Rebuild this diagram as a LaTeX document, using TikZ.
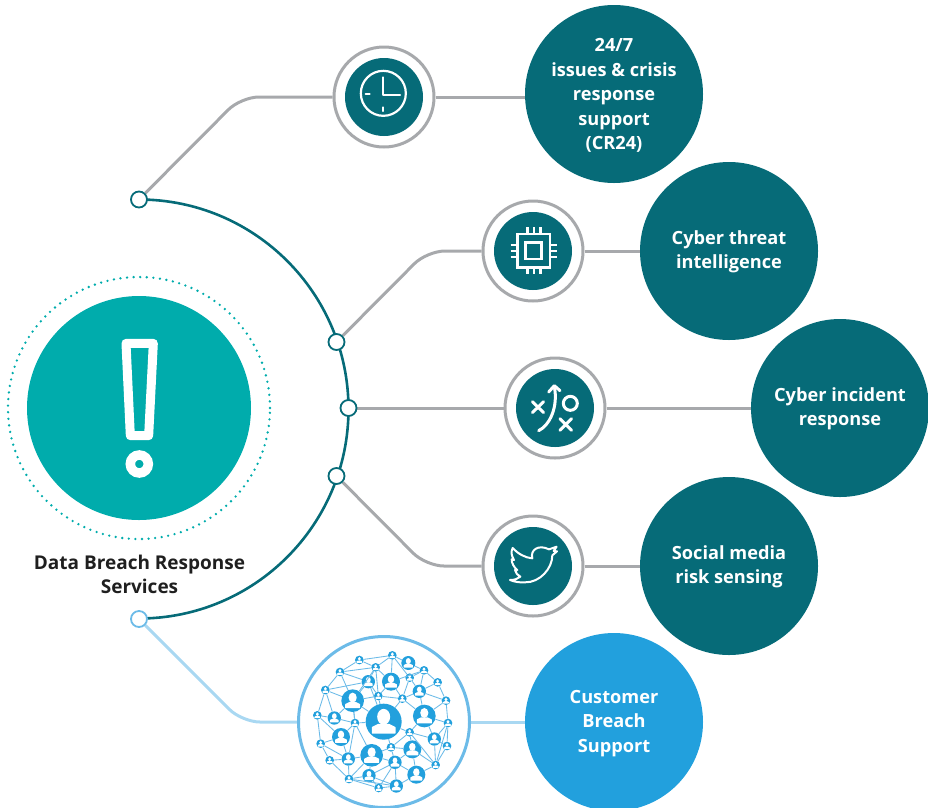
\documentclass[tikz,border=0pt]{standalone}
\usepackage{fontspec}
\setmainfont{Open Sans}
\usetikzlibrary{backgrounds}
\definecolor{tealD}{HTML}{066B78}
\definecolor{tealL}{HTML}{00ACAC}
\definecolor{blueC}{HTML}{22A0DD}
\definecolor{blueL}{HTML}{A9D8F2}
\definecolor{blueM}{HTML}{6CBBE8}
\definecolor{greyL}{HTML}{A7A9AC}
\tikzset{
  lbl/.style={circle,fill=tealD,minimum size=178pt,inner sep=0pt},
  lbltxt/.style={inner sep=0pt,text=white,align=center,font=\bfseries\fontsize{18.2}{24.5}\selectfont},
  ring/.style={circle,draw=greyL,line width=3pt,fill=white,minimum size=100pt,inner sep=0pt},
  disc/.style={circle,fill=tealD,minimum size=78pt,inner sep=0pt},
  dotn/.style={circle,draw=#1,line width=1.8pt,fill=white,minimum size=16pt,inner sep=0pt},
  conn/.style={greyL,line width=3pt,rounded corners=18pt},
  ico/.style={white,line width=2.2pt,line cap=round,line join=round},
  pers/.style={circle,fill=blueC,inner sep=0pt},
  netl/.style={blueM,line width=0.85pt}
}
\newcommand{\pn}[4]{%
  \node[pers,minimum size={#4*2/3*1pt}] (#1) at (#2,#3) {};
  \fill[white] (#2,{#3-0.27*#4}) ellipse [x radius={0.36*#4},y radius={0.44*#4}];
  \fill[white,rounded corners=0.4pt] ({#2-0.66*#4},{#3+0.66*#4}) -- ({#2-0.66*#4},{#3+0.3*#4}) -- ({#2-0.3*#4},{#3+0.12*#4}) -- ({#2+0.3*#4},{#3+0.12*#4}) -- ({#2+0.66*#4},{#3+0.3*#4}) -- ({#2+0.66*#4},{#3+0.66*#4}) -- cycle;
}
\begin{document}
\begin{tikzpicture}[x=1pt,y=-1pt]
\useasboundingbox (0,0) rectangle (928,807);
\clip (0,0) rectangle (928,807);

% left hub
\node[circle,fill=tealL,minimum size=224pt,inner sep=0pt] (hub) at (139,408) {};
\node[circle,draw=tealL,line width=2.6pt,dash pattern=on 0pt off 6.6pt,line cap=round,minimum size=262pt,inner sep=0pt] (hubring) at (139,408) {};
\begin{scope}[shift={(70,320)},x=0.3333pt,y=-0.3333pt]
  \draw[white,line width=9pt,line join=round] (168,70) -- (250,70) -- (236,347) -- (181,347) -- cycle;
  \draw[white,line width=9.5pt] (208,432) circle [radius=9pt];
\end{scope}
\node[font=\bfseries\fontsize{19}{24}\selectfont,text=black!88,align=center,inner sep=0pt] (title) at (139.5,574) {Data Breach Response\\Services};

% branch dots
\node[dotn=tealD] (d1) at (139,199.5) {};
\node[dotn=tealD] (d2) at (336.5,342) {};
\node[dotn=tealD] (d3) at (348.5,408) {};
\node[dotn=tealD] (d4) at (336.5,476) {};
\node[dotn=blueM] (d5) at (139,619) {};

% corners
\coordinate (k1) at (241,97);
\coordinate (k2) at (427,251);
\coordinate (k4) at (426,566);
\coordinate (k5) at (242,722);

% icon rings
\node[ring] (r1) at (384,97) {};
\node[ring] (r2) at (533,251) {};
\node[ring] (r3) at (555,408) {};
\node[ring] (r4) at (533,566) {};
\node[disc] at (384,97) {};
\node[disc] at (533,251) {};
\node[disc] at (555,408) {};
\node[disc] at (533,566) {};
\node[circle,draw=blueM,line width=3pt,fill=white,minimum size=171pt,inner sep=0pt] (r5) at (384,722) {};

% labels
\node[lbl] (l1) at (614,94) {};
\node[lbl] (l2) at (729,251) {};
\node[lbl] (l3) at (840,408) {};
\node[lbl] (l4) at (729,566) {};
\node[lbl,fill=blueC] (l5) at (614,722) {};
\node[lbltxt] (t1) at (614,95.5) {24/7\\issues \& crisis\\response\\support\\(CR24)};
\node[lbltxt] (t2) at (729,252) {Cyber threat\\intelligence};
\node[lbltxt] (t3) at (840,409) {Cyber incident\\response};
\node[lbltxt] (t4) at (729,567) {Social media\\risk sensing};
\node[lbltxt] (t5) at (614,723.5) {Customer\\Breach\\Support};

% connectors
\begin{scope}[on background layer]
  \draw[tealD,line width=2.6pt] (139,199.5) arc [start angle=90,end angle=-90,radius=209.5pt];
  \draw[conn] (d1) -- (k1) -- (r1);
  \draw[conn] (r1.east) -- (l1.west |- r1.east);
  \draw[conn] (d2) -- (k2) -- (r2);
  \draw[conn] (r2) -- (l2);
  \draw[conn] (d3) -- (r3);
  \draw[conn] (r3) -- (l3);
  \draw[conn] (d4) -- (k4) -- (r4);
  \draw[conn] (r4) -- (l4);
  \draw[conn,blueL] (d5) -- (k5) -- (r5);
  \draw[conn,blueL] (r5) -- (l5);
\end{scope}

% clock
\begin{scope}[shift={(320,30)},x=0.3333pt,y=-0.3333pt]
  \draw[ico] (190,190) circle [radius=22.5pt];
  \draw[ico] (190,142) -- (190,195) -- (240,195);
  \draw[ico] (137,191) -- (149,191);
  \draw[ico] (190,232) -- (190,243);
\end{scope}

% chip
\begin{scope}[shift={(470,190)},x=0.3333pt,y=-0.3333pt]
  \draw[ico,line width=2.6pt,line cap=butt,line join=miter] (142,132) rectangle (240,232);
  \draw[ico,line width=2.6pt,line cap=butt,line join=miter] (167,158) rectangle (214,207);
  \foreach \p in {172,192,212}{
    \draw[ico,line width=2.6pt,line cap=butt] (\p,112) -- (\p,132);
    \draw[ico,line width=2.6pt,line cap=butt] (\p,232) -- (\p,252);
  }
  \foreach \p in {165,183,201}{
    \draw[ico,line width=2.6pt,line cap=butt] (122,\p) -- (142,\p);
    \draw[ico,line width=2.6pt,line cap=butt] (240,\p) -- (262,\p);
  }
\end{scope}

% play
\begin{scope}[shift={(495,350)},x=0.3333pt,y=-0.3333pt]
  \draw[ico,line width=3pt] (112,155) -- (146,188) (146,155) -- (112,188);
  \draw[ico,line width=3pt] (226,160) circle [radius=7pt];
  \draw[ico,line width=3pt] (195,206) -- (230,241) (230,206) -- (195,241);
  \draw[ico,line width=3pt] (131,242) .. controls (165,225) and (190,170) .. (178,110);
  \draw[ico,line width=3pt] (161,126) -- (178,107) -- (195,122);
\end{scope}

% bird
\begin{scope}[shift={(475,510)},x=0.3333pt,y=-0.3333pt]
  \draw[ico,line width=2pt] (172,145) .. controls (165,120) and (190,102) .. (222,118)
     -- (245,110) -- (236,123) -- (246,124) -- (232,136)
     .. controls (232,175) and (195,218) .. (150,217)
     .. controls (130,218) and (118,215) .. (105,210)
     .. controls (118,210) and (128,207) .. (136,200)
     .. controls (128,195) and (122,190) .. (120,180)
     -- (127,180) .. controls (117,172) and (110,160) .. (110,148)
     -- (117,150) .. controls (108,135) and (108,125) .. (113,114)
     .. controls (130,132) and (150,143) .. (172,145) -- cycle;
\end{scope}

% network
\begin{scope}[shift={(290,625)},x=0.3333pt,y=-0.3333pt]
  \pn{C}{281}{290}{54} \pn{A}{188}{227}{34} \pn{B}{403}{273}{34} \pn{D}{245}{391}{34}
  \pn{E}{153}{336}{27} \pn{F}{367}{373}{27} \pn{G}{379}{449}{27} \pn{H}{303}{170}{27}
  \pn{I}{355}{114}{21} \pn{J}{235}{170}{20} \pn{K}{388}{199}{20} \pn{L}{433}{342}{20}
  \pn{M}{133}{279}{20} \pn{N}{175}{402}{20} \pn{O}{315}{412}{20} \pn{P}{237}{452}{20}
  \pn{Q}{319}{483}{20}
  \pn{a}{307}{91}{13} \pn{b}{208}{105}{13} \pn{c}{257}{127}{13} \pn{d}{150}{141}{13}
  \pn{e}{106}{195}{13} \pn{f}{265}{213}{13} \pn{g}{337}{221}{13} \pn{h}{359}{158}{13}
  \pn{i}{402}{136}{13} \pn{j}{443}{172}{13} \pn{k}{468}{227}{13} \pn{l}{474}{294}{13}
  \pn{m}{471}{363}{13} \pn{n}{437}{420}{13} \pn{o}{359}{322}{13} \pn{p}{303}{367}{13}
  \pn{q}{195}{294}{13} \pn{r}{82}{271}{13} \pn{s}{92}{356}{13} \pn{t}{119}{406}{13}
  \pn{u}{177}{462}{13} \pn{v}{266}{489}{13}
  \foreach \u/\w in {b/a,a/I,a/c,a/h,b/c,b/d,d/c,d/e,d/A,d/J,e/J,e/A,e/r,e/M,c/J,c/H,c/f,J/f,A/f,A/J,A/c,H/f,H/g,H/a,g/K,g/C,g/h,g/B,h/K,h/i,I/i,i/j,i/K,i/H,j/k,K/k,K/j,K/B,B/k,k/l,B/l,B/L,B/o,o/C,o/L,l/L,l/m,l/n,L/m,L/n,m/n,n/G,n/F,n/o,o/F,o/p,p/C,p/D,p/F,p/O,O/F,O/G,O/D,O/Q,O/P,O/v,G/Q,G/F,Q/v,Q/u,Q/P,v/u,v/P,P/u,P/D,D/u,D/N,N/u,N/t,N/s,N/E,N/q,q/D,q/C,q/E,q/M,q/A,M/r,r/s,r/E,s/E,s/t,t/u,A/M,A/q,A/C,C/f,J/C,f/g}{
    \draw[netl] (\u) -- (\w);
  }
\end{scope}
\end{tikzpicture}
\end{document}
